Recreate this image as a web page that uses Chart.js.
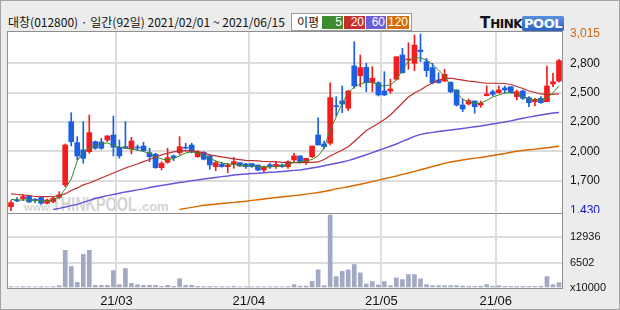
<!DOCTYPE html>
<html>
<head>
<meta charset="utf-8">
<script src="https://cdn.jsdelivr.net/npm/chart.js@4.4.1/dist/chart.umd.min.js"></script>
<style>
body { margin: 0; background: #fff; }
#wrap { position: relative; width: 620px; height: 310px; background: #ececec; box-shadow: inset 0 0 0 1px #a3a3a3; overflow: hidden; font-family: "Noto Sans CJK KR", sans-serif; }
#panel { position: absolute; left: 7px; top: 31px; width: 556px; height: 258px; box-sizing: border-box; background: #fff; border: 1px solid #8f8f8f; }
#sep { position: absolute; left: 7px; top: 213px; width: 556px; height: 1px; background: #8f8f8f; }
#title { position: absolute; left: 8px; top: 14px; font-size: 12px; line-height: 16px; color: #111; white-space: nowrap; }
#legend { position: absolute; left: 291px; top: 13px; width: 121px; height: 18px; box-sizing: border-box; background: #fff; border: 1px solid #9c9c9c; }
#legend .lbl { position: absolute; left: 5px; top: 0; font-size: 12px; line-height: 16px; color: #111; }
#legend .box { position: absolute; top: 2px; height: 13px; color: #fff; font: 12px/13px "Liberation Sans", sans-serif; text-align: right; box-sizing: border-box; padding-right: 1px; }
#logo { position: absolute; left: 480px; top: 13px; height: 17px; white-space: nowrap; font-family: "DejaVu Sans", sans-serif; font-weight: bold; }
#logo .t1 { font-size: 15px; color: #111; }
#logo .t2 { font-size: 12px; color: #111; letter-spacing: -0.5px; }
#logo .pool { display: inline-block; background: linear-gradient(#5a8ee0, #2d62c2); color: #fff; font-size: 13px; padding: 0 2px; border-radius: 2px; letter-spacing: -0.5px; }
#wm { position: absolute; left: 24px; top: 193px; white-space: nowrap; color: #d4d4d4; font-family: "Liberation Sans", sans-serif; font-weight: bold; }
#wm .a { font-size: 11px; }
#wm .b { display: inline-block; font-size: 20px; transform: scaleX(0.72); transform-origin: left; width: 86px; }
#wm .c { font-size: 13px; }
canvas { position: absolute; left: 0; }
#priceChart { top: 0; }
#volChart { top: 213px; }
</style>
</head>
<body>
<div id="wrap">
  <div id="panel"></div>
  <div id="sep"></div>
  <div id="wm"><span class="a">www.</span><span class="b">THINKPOOL</span><span class="c">.com</span></div>
  <div id="title">대창(012800) · 일간(92일) 2021/02/01 ~ 2021/06/15</div>
  <div id="legend">
    <span class="lbl">이평</span>
    <span class="box" style="left:30px;width:21px;background:#3e8c2e">5</span>
    <span class="box" style="left:52px;width:21px;background:#c8312b">20</span>
    <span class="box" style="left:74px;width:20px;background:#6a5fd6">60</span>
    <span class="box" style="left:95px;width:22px;background:#d76c0c">120</span>
  </div>
  <div id="logo"><span class="t1">T</span><span class="t2">HINK</span><span class="pool">POOL</span></div>
  <canvas id="priceChart" width="620" height="213"></canvas>
  <canvas id="volChart" width="620" height="97"></canvas>
</div>
<script>
// trading days 2021/02/01 ~ 2021/06/15
const dates = [
  '02/01','02/02','02/03','02/04','02/05','02/08','02/09','02/10','02/15','02/16','02/17','02/18','02/19','02/22','02/23','02/24','02/25','02/26',
  '03/02','03/03','03/04','03/05','03/08','03/09','03/10','03/11','03/12','03/15','03/16','03/17','03/18','03/19','03/22','03/23','03/24','03/25','03/26','03/29','03/30','03/31',
  '04/01','04/02','04/05','04/06','04/07','04/08','04/09','04/12','04/13','04/14','04/15','04/16','04/19','04/20','04/21','04/22','04/23','04/26','04/27','04/28','04/29','04/30',
  '05/03','05/04','05/06','05/07','05/10','05/11','05/12','05/13','05/14','05/17','05/18','05/20','05/21','05/24','05/25','05/26','05/27','05/28','05/31',
  '06/01','06/02','06/03','06/04','06/07','06/08','06/09','06/10','06/11','06/14','06/15'
];

const opens = [
  1466,1526,1538,1562,1532,1547,1496,1511,1550,1661,
  2228,2040,1975,1959,2049,2046,2064,2109,1999,2004,
  1983,1999,2010,1950,1936,1816,1864,1921,1950,1995,
  2019,1914,1954,1921,1825,1846,1825,1849,1861,1849,
  1852,1840,1795,1843,1825,1840,1825,1885,1921,1864,
  1914,2109,2028,2035,2369,2414,2349,2728,2641,2716,
  2578,2578,2504,2504,2609,2827,2782,2752,2871,2767,
  2713,2602,2593,2582,2513,2378,2387,2414,2378,2462,
  2497,2488,2531,2542,2453,2504,2444,2408,2438,2408,
  2567,2593
];
const highs = [
  1520,1547,1571,1568,1541,1553,1535,1550,1600,2028,
  2309,2094,2228,2288,2055,2079,2105,2279,2064,2228,
  2088,2019,2044,1990,1945,1870,1990,1930,2094,2035,
  2035,1968,1959,1930,1876,1864,1855,1909,1861,1855,
  1855,1840,1831,1855,1870,1849,1876,1945,1921,1900,
  2010,2264,2055,2578,2453,2549,2508,2946,2827,2752,
  2722,2587,2677,2609,2811,2887,2937,3006,3015,2797,
  2752,2668,2698,2587,2513,2429,2432,2414,2414,2549,
  2513,2549,2549,2542,2513,2513,2453,2438,2453,2728,
  2663,2788
];
const lows = [
  1430,1511,1520,1502,1502,1486,1490,1502,1541,1645,
  2010,1885,1855,1945,1981,1981,2049,1921,1900,1987,
  1939,1968,1959,1870,1810,1795,1855,1879,1930,1983,
  1950,1909,1885,1801,1789,1819,1771,1810,1825,1810,
  1819,1789,1771,1810,1810,1819,1810,1870,1855,1846,
  1905,2019,1983,2019,2279,2309,2327,2528,2542,2497,
  2497,2459,2463,2483,2602,2663,2698,2686,2767,2632,
  2567,2573,2587,2488,2369,2318,2378,2304,2357,2459,
  2459,2483,2483,2483,2423,2429,2363,2369,2393,2408,
  2542,2582
];
const closes = [
  1502,1517,1556,1508,1520,1496,1526,1541,1571,2019,
  2049,1921,1900,2130,1990,1990,2100,1999,1921,1990,
  2055,1992,1968,1914,1816,1855,1905,1905,2004,1990,
  1959,1955,1891,1840,1861,1825,1840,1870,1831,1825,
  1825,1795,1825,1825,1846,1825,1870,1921,1870,1900,
  2010,2019,2004,2444,2363,2387,2504,2549,2713,2578,
  2618,2468,2468,2522,2811,2668,2791,2916,2856,2686,
  2578,2578,2653,2497,2378,2342,2417,2363,2393,2477,
  2474,2513,2513,2488,2497,2438,2399,2429,2399,2549,
  2587,2776
];
// volume, x10000
const volumes = [
  350,300,350,350,300,350,300,350,590,9600,
  5480,1440,8570,9600,670,670,670,4450,850,4970,
  1180,850,670,670,670,410,670,410,2390,670,
  670,400,350,400,350,350,300,400,300,300,
  300,350,300,300,350,300,350,850,450,500,
  1700,4630,590,18600,2910,4270,4630,6000,3860,1030,
  1620,770,1620,590,2570,2140,3420,3420,2310,850,
  590,590,590,590,590,500,400,400,450,850,
  450,590,400,400,400,400,400,400,450,2910,
  850,1360
];

const ma5 = [
  1532,1526,1526,1526,1522,1517,1517,1526,1553,1625,
  1714,1876,1957,1992,2006,2033,2037,2015,2001,1992,
  1983,1975,1961,1943,1912,1894,1885,1898,1921,1948,
  1957,1948,1921,1900,1876,1858,1849,1844,1840,1835,
  1831,1827,1822,1822,1827,1831,1849,1862,1867,1876,
  1889,1921,1992,2154,2271,2396,2486,2540,2567,2582,
  2580,2558,2549,2558,2602,2692,2773,2804,2800,2782,
  2743,2692,2638,2549,2486,2432,2405,2393,2396,2419,
  2450,2468,2486,2490,2472,2454,2432,2423,2423,2441,
  2486,2549
];
const ma20 = [
  1580,1575,1571,1566,1557,1556,1556,1557,1566,1580,
  1611,1634,1661,1678,1701,1723,1746,1768,1791,1813,
  1831,1849,1870,1889,1912,1930,1945,1957,1966,1968,
  1966,1959,1948,1930,1921,1912,1903,1894,1888,1882,
  1879,1876,1871,1870,1867,1864,1862,1861,1861,1862,
  1864,1867,1889,1921,1948,1975,2004,2051,2100,2149,
  2181,2212,2248,2288,2342,2396,2450,2486,2513,2549,
  2575,2602,2616,2618,2611,2602,2593,2587,2580,2573,
  2573,2573,2571,2562,2544,2526,2504,2490,2477,2474,
  2474,2477
];
const ma60 = [
  null,null,null,null,null,null,null,1441,1450,1463,
  1475,1487,1504,1522,1539,1553,1565,1575,1586,1598,
  1607,1616,1625,1638,1647,1656,1665,1674,1683,1690,
  1699,1705,1714,1721,1728,1735,1741,1750,1755,1759,
  1764,1766,1770,1774,1777,1782,1786,1791,1795,1804,
  1813,1822,1833,1844,1855,1867,1879,1896,1914,1932,
  1951,1970,1989,2008,2028,2051,2073,2096,2114,2124,
  2132,2140,2147,2154,2160,2167,2175,2183,2190,2199,
  2208,2217,2226,2236,2248,2259,2269,2279,2288,2297,
  2306,2311
];
const ma120 = [
  null,null,null,null,null,null,null,null,null,null,
  null,null,null,null,null,null,null,null,null,null,
  null,null,null,null,null,null,null,null,1441,1450,
  1459,1469,1478,1483,1488,1494,1499,1504,1510,1515,
  1522,1528,1535,1541,1548,1553,1559,1565,1571,1578,
  1585,1593,1602,1613,1625,1635,1645,1656,1667,1678,
  1691,1704,1716,1729,1741,1755,1768,1782,1797,1811,
  1826,1840,1854,1867,1876,1885,1894,1901,1907,1916,
  1925,1934,1943,1954,1963,1970,1976,1982,1988,1994,
  2001,2008
];

const priceTicks = [1430, 1700, 1963, 2226, 2489, 2752, 3015];
const priceTickLabels = ['1,430', '1,700', '2,000', '2,200', '2,500', '2,800', '3,015'];
const volTicks = [0, 6502, 12936];
const volTickLabels = ['x10000', '6502', '12936'];

const RED = '#f41c1c';
const BLUE = '#1d5fe3';
const GRID = '#dcdcdc';
const FONT = '"Liberation Sans", Arial, sans-serif';

const monthStarts = dates.map((d, i) => i > 0 && d.slice(0, 2) !== dates[i - 1].slice(0, 2) ? i : -1).filter(i => i > 0);
const candleColors = opens.map((o, i) => closes[i] >= o ? RED : BLUE);

// keep the chart area fixed: no extra room for edge labels
const noPad = s => { s.paddingTop = 0; s.paddingBottom = 0; s.paddingLeft = 0; s.paddingRight = 0; };

const xGrid = {
  offset: true,
  drawTicks: false,
  lineWidth: 2,
  color: ctx => monthStarts.includes(ctx.index) ? GRID : 'rgba(0,0,0,0)'
};

const maLine = (data, color, width) => ({
  type: 'line',
  data: data,
  borderColor: color,
  borderWidth: width,
  pointRadius: 0,
  tension: 0,
  order: 0
});

new Chart(document.getElementById('priceChart'), {
  type: 'bar',
  data: {
    labels: dates,
    datasets: [
      maLine(ma5, '#3a8a22', 1),
      maLine(ma20, '#bf2e2e', 1.2),
      maLine(ma60, '#6654dc', 1.4),
      maLine(ma120, '#d96800', 1.4),
      {
        data: opens.map((o, i) => [o, closes[i]]),
        backgroundColor: candleColors,
        barThickness: 5,
        minBarLength: 1,
        grouped: false,
        order: 1
      },
      {
        data: lows.map((l, i) => [l, highs[i]]),
        backgroundColor: candleColors,
        barThickness: 1,
        grouped: false,
        order: 2
      }
    ]
  },
  options: {
    responsive: false,
    animation: false,
    layout: { padding: { left: 8, right: 0, top: 32, bottom: 1 } },
    plugins: { legend: { display: false }, tooltip: { enabled: false } },
    scales: {
      x: {
        type: 'category',
        offset: true,
        ticks: { display: false, autoSkip: false },
        grid: xGrid,
        border: { display: false },
        afterFit: s => { s.height = 0; noPad(s); }
      },
      y: {
        position: 'right',
        min: 1418,
        max: 3033,
        afterBuildTicks: s => { s.ticks = priceTicks.map(v => ({ value: v })); },
        afterFit: s => { s.width = 58; noPad(s); },
        ticks: {
          padding: 8,
          font: { family: FONT, size: 12 },
          color: ctx => ctx.index === priceTicks.length - 1 ? '#d0650f' : (ctx.index === 0 ? '#1414c8' : '#111'),
          callback: (v, i) => priceTickLabels[i]
        },
        grid: {
          drawTicks: false,
          lineWidth: 2,
          color: ctx => (ctx.index === 0 || ctx.index === priceTicks.length - 1) ? 'rgba(0,0,0,0)' : GRID
        },
        border: { display: false }
      }
    }
  }
});

new Chart(document.getElementById('volChart'), {
  type: 'bar',
  data: {
    labels: dates,
    datasets: [{
      data: volumes,
      backgroundColor: '#a2a9c3',
      barThickness: 4
    }]
  },
  options: {
    responsive: false,
    animation: false,
    layout: { padding: { left: 8, right: 0, top: 1, bottom: 0 } },
    plugins: { legend: { display: false }, tooltip: { enabled: false } },
    scales: {
      x: {
        type: 'category',
        offset: true,
        ticks: {
          autoSkip: false,
          maxRotation: 0,
          padding: 6,
          labelOffset: -3,
          color: '#111',
          font: { family: FONT, size: 13 },
          callback: (v, i) => monthStarts.includes(i) ? '21/' + dates[i].slice(0, 2) : ''
        },
        grid: xGrid,
        border: { display: false },
        afterFit: s => { s.height = 22; noPad(s); }
      },
      y: {
        position: 'right',
        min: 0,
        max: 18880,
        afterBuildTicks: s => { s.ticks = volTicks.map(v => ({ value: v })); },
        afterFit: s => { s.width = 58; noPad(s); },
        ticks: {
          padding: 8,
          font: { family: FONT, size: 11 },
          color: '#111',
          callback: (v, i) => volTickLabels[i]
        },
        grid: {
          drawTicks: false,
          lineWidth: 2,
          color: ctx => ctx.index === 0 ? 'rgba(0,0,0,0)' : GRID
        },
        border: { display: false }
      }
    }
  }
});
</script>
</body>
</html>
